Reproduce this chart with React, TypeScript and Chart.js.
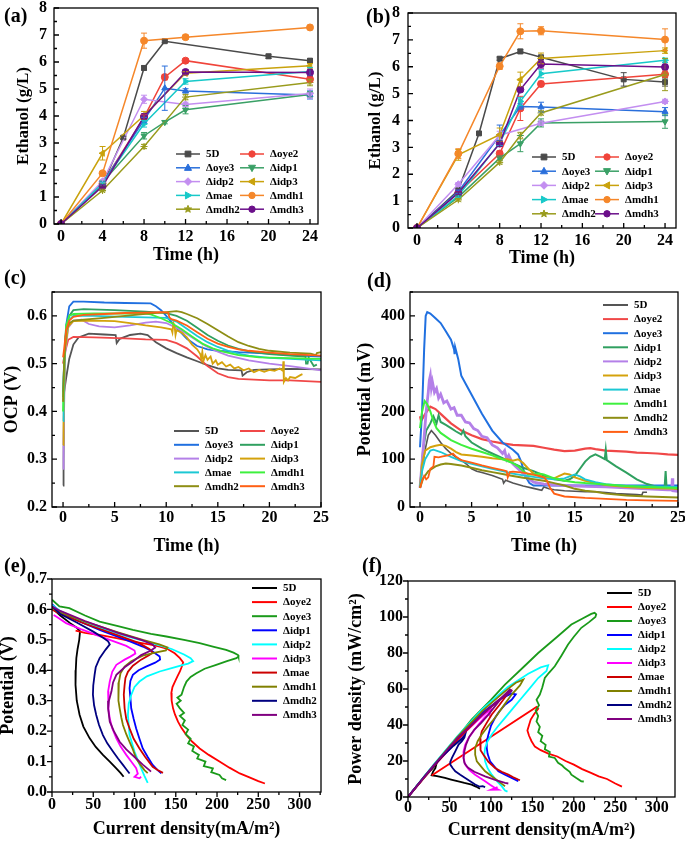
import React, { useEffect, useRef } from 'react';
import { Chart, registerables } from 'chart.js';

Chart.register(...registerables);

const FAMILY = "'Liberation Serif', 'Times New Roman', serif";
const NAMES = ['5D', 'Δoye2', 'Δoye3', 'Δidp1', 'Δidp2', 'Δidp3', 'Δmae', 'Δmdh1', 'Δmdh2', 'Δmdh3'];

// ---------- tick arrays ----------
const AB_XTICKS = [0, 4, 8, 12, 16, 20, 24];
const AB_YTICKS = [0, 1, 2, 3, 4, 5, 6, 7, 8];
const CD_XTICKS = [0, 5, 10, 15, 20, 25];
const C_YTICKS = [0.2, 0.3, 0.4, 0.5, 0.6];
const D_YTICKS = [0, 100, 200, 300, 400];
const EF_XTICKS = [0, 50, 100, 150, 200, 250, 300];
const E_YTICKS = [0, 0.1, 0.2, 0.3, 0.4, 0.5, 0.6, 0.7];
const F_YTICKS = [0, 20, 40, 60, 80, 100, 120];

// ---------- (a) ethanol [time, g/L, error] ----------
const A_5D = [[0, 0, 0], [4, 1.45, 0.05], [6, 3.2, 0.05], [8, 5.78, 0.08], [10, 6.77, 0.05], [20, 6.21, 0.08], [24, 6.05, 0.07]];
const A_OYE2 = [[0, 0, 0], [4, 1.5, 0.05], [8, 3.95, 0.1], [10, 5.44, 0.1], [12, 6.05, 0.06], [24, 5.36, 0.1]];
const A_OYE3 = [[0, 0, 0], [4, 1.52, 0.05], [8, 3.85, 0.1], [10, 5.03, 0.82], [12, 4.93, 0.08], [24, 4.78, 0.15]];
const A_IDP1 = [[0, 0, 0], [4, 1.55, 0.05], [8, 3.27, 0.12], [10, 3.77, 0.06], [12, 4.23, 0.15], [24, 4.8, 0.1]];
const A_IDP2 = [[0, 0, 0], [4, 1.58, 0.05], [8, 4.62, 0.15], [12, 4.43, 0.08], [24, 4.83, 0.17]];
const A_IDP3 = [[0, 0, 0], [4, 2.62, 0.25], [8, 4.02, 0.15], [12, 5.58, 0.06], [24, 5.86, 0.08]];
const A_MAE = [[0, 0, 0], [4, 1.5, 0.05], [8, 3.71, 0.12], [12, 5.28, 0.1], [24, 5.65, 0.15]];
const A_MDH1 = [[0, 0, 0], [4, 1.88, 0.06], [8, 6.79, 0.28], [12, 6.92, 0.08], [24, 7.28, 0.08]];
const A_MDH2 = [[0, 0, 0], [4, 1.24, 0.05], [8, 2.87, 0.08], [12, 4.7, 0.1], [24, 5.24, 0.12]];
const A_MDH3 = [[0, 0, 0], [4, 1.4, 0.05], [8, 3.98, 0.1], [12, 5.63, 0.08], [24, 5.61, 0.12]];

// ---------- (b) ethanol [time, g/L, error] ----------
const B_5D = [[0, 0, 0], [4, 1.4, 0.08], [6, 3.52, 0.05], [8, 6.3, 0.06], [10, 6.57, 0.08], [12, 6.35, 0.08], [20, 5.53, 0.25], [24, 5.43, 0.15]];
const B_OYE2 = [[0, 0, 0], [4, 1.3, 0.05], [8, 2.77, 0.1], [10, 4.45, 0.45], [12, 5.36, 0.1], [24, 5.72, 0.12]];
const B_OYE3 = [[0, 0, 0], [4, 1.35, 0.06], [8, 3.45, 0.38], [10, 4.52, 0.1], [12, 4.5, 0.18], [24, 4.33, 0.15]];
const B_IDP1 = [[0, 0, 0], [4, 1.15, 0.05], [8, 2.6, 0.08], [10, 3.14, 0.3], [12, 3.91, 0.15], [24, 3.96, 0.25]];
const B_IDP2 = [[0, 0, 0], [4, 1.63, 0.06], [8, 3.45, 0.15], [12, 3.9, 0.08], [24, 4.71, 0.08]];
const B_IDP3 = [[0, 0, 0], [4, 2.72, 0.2], [8, 3.47, 0.25], [10, 5.52, 0.28], [12, 6.31, 0.2], [24, 6.6, 0.1]];
const B_MAE = [[0, 0, 0], [4, 1.2, 0.05], [8, 3.16, 0.1], [10, 4.71, 0.15], [12, 5.74, 0.15], [24, 6.24, 0.08]];
const B_MDH1 = [[0, 0, 0], [4, 2.77, 0.18], [8, 6.02, 0.12], [10, 7.32, 0.28], [12, 7.34, 0.15], [24, 7.01, 0.4]];
const B_MDH2 = [[0, 0, 0], [4, 1.05, 0.05], [8, 2.44, 0.06], [10, 3.44, 0.12], [12, 4.28, 0.08], [24, 5.71, 0.6]];
const B_MDH3 = [[0, 0, 0], [4, 1.3, 0.05], [8, 3.14, 0.1], [10, 5.15, 0.08], [12, 6.1, 0.15], [24, 5.99, 0.1]];

// ---------- (c) OCP [time h, V] ----------
const C_5D = [[0, 0.245], [0.05, 0.3], [0.1, 0.44], [0.3, 0.47], [0.6, 0.51], [1, 0.54], [1.5, 0.555], [2.5, 0.563], [4, 0.561], [5.1, 0.56], [5.2, 0.543], [5.5, 0.552], [6.5, 0.56], [7.5, 0.563], [8.2, 0.56], [9, 0.545], [10, 0.532], [11, 0.522], [12, 0.513], [13, 0.505], [14, 0.497], [15, 0.49], [16, 0.487], [17.3, 0.486], [17.4, 0.475], [17.8, 0.482], [18.5, 0.487], [20, 0.488], [22, 0.489], [25, 0.488]];
const C_OYE2 = [[0, 0.5], [0.15, 0.52], [0.5, 0.55], [1, 0.556], [3, 0.555], [6, 0.553], [8, 0.551], [10, 0.55], [11, 0.543], [12, 0.532], [13, 0.515], [14, 0.495], [15, 0.48], [16, 0.472], [17, 0.468], [18, 0.467], [20, 0.465], [22, 0.465], [25, 0.462]];
const C_OYE3 = [[0, 0.44], [0.1, 0.5], [0.3, 0.58], [0.6, 0.62], [1, 0.63], [2, 0.63], [4, 0.628], [6, 0.627], [8.5, 0.626], [9, 0.62], [9.5, 0.612], [10, 0.6], [10.5, 0.587], [11, 0.575], [12, 0.552], [13, 0.537], [14, 0.53], [15, 0.527], [17, 0.524], [20, 0.521], [22, 0.518], [25, 0.515]];
const C_IDP1 = [[0, 0.43], [0.1, 0.5], [0.3, 0.57], [0.6, 0.6], [1, 0.612], [2, 0.614], [5, 0.612], [8, 0.609], [10, 0.606], [11, 0.6], [12, 0.59], [13, 0.575], [14, 0.56], [15, 0.548], [16, 0.538], [17, 0.531], [18, 0.526], [20, 0.52], [22, 0.517], [23.5, 0.515], [23.55, 0.5], [23.7, 0.5], [23.8, 0.513], [24.3, 0.495], [24.6, 0.498]];
const C_IDP2 = [[0, 0.28], [0.05, 0.34], [0.2, 0.52], [0.5, 0.575], [1, 0.59], [1.8, 0.592], [2.5, 0.583], [3.5, 0.578], [5, 0.576], [6.5, 0.58], [8, 0.586], [9, 0.588], [10, 0.585], [11, 0.575], [12, 0.562], [13, 0.548], [14, 0.535], [15, 0.525], [16, 0.517], [18, 0.507], [20, 0.5], [22, 0.495], [24, 0.489], [25, 0.486]];
const C_IDP3 = [[0, 0.33], [0.05, 0.38], [0.2, 0.53], [0.5, 0.578], [1, 0.589], [3, 0.59], [5, 0.589], [6.5, 0.585], [8, 0.58], [9.5, 0.576], [10.5, 0.572], [10.6, 0.565], [10.7, 0.585], [10.8, 0.58], [10.9, 0.56], [11, 0.57], [11.5, 0.565], [12, 0.555], [12.5, 0.54], [13, 0.53], [13.3, 0.52], [13.4, 0.51], [13.5, 0.525], [13.6, 0.505], [13.8, 0.518], [14, 0.508], [14.3, 0.515], [14.5, 0.5], [14.8, 0.507], [15, 0.498], [15.4, 0.503], [15.8, 0.494], [16.2, 0.498], [16.6, 0.49], [17, 0.493], [17.5, 0.486], [18, 0.49], [18.5, 0.482], [19, 0.487], [19.5, 0.483], [20, 0.487], [20.5, 0.485], [21, 0.49], [21.3, 0.485], [21.35, 0.505], [21.4, 0.462], [21.6, 0.47], [21.8, 0.465], [22, 0.472], [22.5, 0.47], [23, 0.476], [23.2, 0.478]];
const C_MAE = [[0, 0.38], [0.05, 0.42], [0.2, 0.55], [0.5, 0.59], [1, 0.6], [3, 0.6], [6, 0.598], [8, 0.597], [10, 0.596], [11, 0.588], [12, 0.573], [13, 0.558], [14, 0.545], [15, 0.535], [16, 0.527], [17, 0.521], [18, 0.517], [20, 0.512], [22, 0.51], [25, 0.507]];
const C_MDH1 = [[0, 0.4], [0.1, 0.5], [0.3, 0.58], [0.6, 0.6], [1, 0.604], [3, 0.605], [6, 0.605], [8, 0.605], [8.5, 0.603], [9.5, 0.595], [10.5, 0.585], [11.5, 0.572], [12.5, 0.557], [13.5, 0.542], [14.5, 0.532], [15.5, 0.525], [17, 0.518], [19, 0.513], [21, 0.512], [25, 0.51]];
const C_MDH2 = [[0, 0.42], [0.1, 0.5], [0.3, 0.57], [0.6, 0.585], [1, 0.59], [2, 0.592], [4, 0.596], [6, 0.6], [8, 0.604], [10, 0.608], [11, 0.61], [11.5, 0.608], [12, 0.604], [13, 0.595], [14, 0.583], [15, 0.57], [16, 0.557], [17, 0.545], [18, 0.537], [19, 0.531], [20, 0.527], [22, 0.523], [24, 0.521], [24.5, 0.518], [24.6, 0.522], [25, 0.524]];
const C_MDH3 = [[0, 0.513], [0.1, 0.53], [0.3, 0.57], [0.6, 0.59], [1, 0.598], [2, 0.602], [4, 0.604], [6, 0.606], [8, 0.607], [9.5, 0.608], [10.2, 0.607], [10.3, 0.597], [10.5, 0.593], [11, 0.59], [12, 0.58], [13, 0.566], [14, 0.552], [15, 0.542], [16, 0.535], [17, 0.53], [18, 0.527], [20, 0.523], [22, 0.52], [25, 0.517]];

// ---------- (d) potential [time h, mV] ----------
const D_5D = [[0, 40], [0.2, 80], [0.5, 120], [0.8, 150], [1.1, 160], [1.5, 150], [2, 135], [2.5, 122], [3, 112], [3.5, 104], [4, 98], [4.5, 90], [5, 80], [5.5, 75], [6, 72], [7, 66], [8, 58], [8.1, 50], [8.3, 56], [9, 50], [10, 44], [11, 39], [11.8, 35], [12, 42], [12.5, 38], [13, 36], [14, 34], [15, 33], [16, 32], [17, 32], [18, 30], [19, 28], [20, 27], [21, 26], [21.5, 25], [21.6, 31], [22, 31]];
const D_OYE2 = [[0, 190], [0.1, 180], [0.5, 195], [1, 210], [1.5, 205], [2, 195], [2.5, 185], [3, 175], [4, 160], [5, 150], [6, 142], [7, 137], [8, 133], [9, 130], [10, 129], [11, 128], [12, 124], [13, 120], [14, 117], [15, 118], [16, 122], [16.5, 123], [17, 121], [18, 118], [19, 117], [20, 116], [21, 114], [22, 113], [23, 112], [24, 110], [25, 109]];
const D_OYE3 = [[0, 125], [0.2, 200], [0.4, 330], [0.55, 400], [0.7, 408], [1, 405], [1.5, 395], [2, 385], [2.5, 368], [3, 350], [3.3, 330], [3.35, 320], [3.4, 335], [3.7, 310], [4, 275], [4.5, 255], [5, 235], [6, 195], [7, 160], [8, 135], [9, 120], [9.5, 110], [9.8, 95], [10.2, 65], [10.6, 50], [11, 45], [13, 45], [16, 45], [20, 45], [25, 45]];
const D_IDP1 = [[0, 40], [0.3, 120], [0.6, 160], [1, 175], [1.3, 190], [1.6, 175], [1.8, 192], [2, 178], [2.5, 172], [3, 165], [3.5, 158], [4, 152], [4.2, 160], [4.4, 148], [5, 135], [6, 122], [7, 112], [8, 102], [9, 92], [10, 82], [11, 75], [12, 66], [13, 58], [14, 55], [14.5, 58], [15, 65], [15.5, 80], [16, 95], [16.5, 105], [17, 110], [17.5, 105], [17.9, 100], [18, 120], [18.1, 98], [19, 85], [20, 72], [21, 58], [22, 48], [23, 42], [23.7, 40], [23.8, 75], [23.9, 38], [25, 37]];
const D_IDP2 = [[0, 40], [0.3, 120], [0.6, 200], [0.8, 240], [0.9, 265], [1, 275], [1.1, 250], [1.2, 262], [1.4, 240], [1.6, 248], [1.8, 228], [2, 236], [2.3, 218], [2.6, 222], [3, 205], [3.3, 208], [3.6, 192], [4, 192], [4.4, 178], [4.8, 176], [5.2, 164], [5.6, 160], [6, 148], [6.5, 145], [7, 130], [7.5, 124], [8, 112], [8.2, 118], [8.4, 100], [8.6, 108], [9, 90], [9.5, 80], [10, 70], [10.5, 60], [11, 52], [12, 48], [14, 45], [16, 43], [18, 42], [20, 40], [22, 38], [24, 36], [24.4, 36], [24.45, 60], [24.5, 34], [25, 33]];
const D_IDP3 = [[0, 40], [0.2, 90], [0.5, 118], [1, 125], [1.5, 128], [2, 130], [2.5, 128], [3, 122], [3.5, 115], [4, 110], [5, 108], [6, 105], [7, 102], [8, 100], [8.5, 100], [9, 97], [9.5, 100], [10, 92], [10.5, 80], [11, 70], [12, 62], [13, 60], [13.5, 65], [14, 70], [14.5, 68], [15, 62], [16, 55], [17, 50], [18, 46], [20, 42], [22, 40], [25, 38]];
const D_MAE = [[0, 40], [0.2, 75], [0.5, 100], [1, 118], [1.3, 120], [2, 115], [3, 105], [4, 96], [5, 90], [6, 85], [7, 80], [8, 75], [9, 70], [10, 66], [11, 63], [12, 60], [13, 58], [14, 60], [14.5, 64], [15, 68], [15.5, 64], [16, 58], [17, 52], [18, 48], [20, 44], [22, 43], [25, 42]];
const D_MDH1 = [[0, 165], [0.2, 200], [0.45, 222], [0.7, 215], [1, 200], [1.3, 180], [1.6, 165], [2, 155], [3, 140], [4, 130], [5, 122], [6, 115], [7, 108], [8, 100], [9, 92], [9.5, 85], [10, 75], [10.5, 68], [11, 68], [11.5, 70], [12, 68], [13, 60], [14, 55], [15, 52], [16, 50], [18, 47], [20, 44], [22, 42], [25, 40]];
const D_MDH2 = [[0, 40], [0.3, 60], [0.8, 75], [1.5, 85], [2, 89], [2.5, 91], [3, 90], [4, 87], [5, 82], [6, 77], [7, 73], [8, 69], [9, 65], [10, 61], [11, 58], [12, 55], [13, 50], [14, 45], [15, 38], [16, 34], [17, 32], [18, 28], [20, 24], [22, 22], [25, 20]];
const D_MDH3 = [[0, 40], [0.2, 55], [0.4, 65], [0.6, 58], [0.8, 62], [1, 80], [1.3, 85], [1.4, 105], [1.8, 104], [2.2, 106], [2.7, 108], [3, 110], [3.2, 112], [3.5, 105], [4, 98], [5, 93], [6, 87], [7, 82], [8, 77], [8.4, 75], [8.5, 62], [8.7, 73], [9, 74], [10, 72], [11, 68], [12, 62], [12.3, 55], [12.6, 40], [13, 28], [14, 22], [16, 19], [18, 17], [20, 15], [22, 14], [25, 13]];

// ---------- (e) polarization [mA/m2, V] ----------
const E_5D = [[2, 0.6], [10, 0.58], [22, 0.555], [30, 0.54], [34, 0.528], [33, 0.5], [31, 0.47], [29.5, 0.44], [28.8, 0.4], [28.5, 0.352], [30, 0.3], [33.4, 0.254], [38, 0.215], [45.5, 0.177], [53, 0.148], [61.7, 0.122], [70, 0.1], [77.9, 0.078], [83, 0.063], [86.8, 0.05]];
const E_OYE2 = [[28.6, 0.53], [40, 0.523], [57.7, 0.516], [78, 0.506], [98, 0.494], [118, 0.485], [130.5, 0.478], [140, 0.47], [148.7, 0.456], [155, 0.44], [159, 0.426], [157, 0.41], [155, 0.396], [152, 0.38], [149, 0.363], [146, 0.345], [144.6, 0.325], [145, 0.3], [146.7, 0.275], [149, 0.255], [152.7, 0.231], [157, 0.21], [163, 0.187], [170, 0.165], [179, 0.143], [190, 0.122], [203, 0.1], [215, 0.08], [227.6, 0.061], [240, 0.047], [250, 0.036], [258, 0.028]];
const E_OYE3 = [[0, 0.632], [9, 0.61], [21, 0.604], [40, 0.58], [57.7, 0.56], [80, 0.545], [98, 0.533], [120, 0.52], [138.6, 0.511], [160, 0.5], [179, 0.489], [195, 0.478], [211, 0.467], [220, 0.458], [225.5, 0.45], [226, 0.445], [223.5, 0.44], [212, 0.43], [199, 0.418], [185, 0.405], [175, 0.39], [168, 0.378], [163, 0.363], [160, 0.345], [157, 0.32], [152, 0.31], [156, 0.3], [151, 0.29], [155, 0.275], [160, 0.26], [155, 0.25], [161, 0.235], [158, 0.22], [165, 0.205], [162, 0.19], [168, 0.175], [165, 0.16], [172, 0.15], [170, 0.135], [178, 0.122], [176, 0.11], [186, 0.1], [184, 0.085], [195, 0.078], [193, 0.065], [203, 0.056], [206, 0.045], [211, 0.039]];
const E_IDP1 = [[0, 0.617], [10, 0.59], [30, 0.565], [60, 0.53], [90, 0.5], [110, 0.478], [122, 0.462], [130.5, 0.445], [131, 0.435], [125, 0.425], [114, 0.412], [105, 0.4], [98, 0.385], [95, 0.365], [94, 0.341], [95, 0.31], [96, 0.275], [99, 0.24], [102, 0.209], [106, 0.175], [110, 0.143], [116, 0.115], [122, 0.089], [128, 0.072], [132.5, 0.061]];
const E_IDP2 = [[0, 0.615], [10, 0.595], [30, 0.57], [60, 0.538], [90, 0.512], [120, 0.49], [145, 0.47], [160, 0.452], [168, 0.44], [171, 0.43], [165, 0.422], [159, 0.418], [145, 0.407], [130.5, 0.396], [115, 0.38], [106, 0.363], [100, 0.345], [96, 0.319], [93, 0.29], [92, 0.253], [93, 0.22], [94, 0.187], [97, 0.16], [100, 0.133], [104, 0.105], [108, 0.078], [112, 0.053], [116, 0.03]];
const E_IDP3 = [[2, 0.582], [6, 0.575], [17, 0.555], [35, 0.535], [55, 0.515], [75, 0.495], [90, 0.48], [100, 0.465], [101, 0.455], [95, 0.445], [88, 0.435], [78, 0.418], [73, 0.395], [70, 0.363], [68, 0.33], [68, 0.297], [69, 0.27], [70, 0.242], [73, 0.21], [78, 0.176], [83, 0.15], [90, 0.122], [96, 0.1], [102, 0.078], [104, 0.06], [100, 0.05], [106, 0.045], [108, 0.05]];
const E_MAE = [[0, 0.6], [10, 0.585], [40, 0.553], [80, 0.515], [105, 0.49], [118, 0.47], [122, 0.458], [118, 0.45], [108, 0.435], [98, 0.415], [92, 0.395], [89, 0.375], [88, 0.352], [87, 0.32], [88, 0.275], [90, 0.24], [94, 0.209], [99, 0.175], [106, 0.143], [113, 0.115], [122, 0.083], [128, 0.072], [134.5, 0.063]];
const E_MDH1 = [[0, 0.605], [10, 0.59], [40, 0.56], [80, 0.525], [110, 0.5], [130, 0.485], [140, 0.475], [138, 0.465], [125, 0.458], [110, 0.448], [96, 0.43], [88, 0.412], [83, 0.39], [81, 0.36], [80, 0.33], [81, 0.3], [82, 0.275], [84, 0.245], [86, 0.22], [90, 0.19], [94, 0.165], [98, 0.14], [102, 0.11], [107, 0.09], [112, 0.072], [116, 0.062]];
const E_MDH2 = [[0, 0.61], [10, 0.585], [30, 0.557], [50, 0.527], [62, 0.507], [68, 0.495], [70, 0.485], [65, 0.468], [57.7, 0.44], [53, 0.41], [51.6, 0.385], [50, 0.35], [49.6, 0.32], [51, 0.285], [53.6, 0.253], [57, 0.22], [61.7, 0.187], [67, 0.16], [73.9, 0.133], [80, 0.11], [86, 0.089], [90, 0.075], [94, 0.061]];
const E_MDH3 = [[0, 0.61], [10, 0.595], [40, 0.562], [80, 0.523], [110, 0.498], [122, 0.485], [125, 0.475], [120, 0.465], [108, 0.45], [98, 0.429], [88, 0.41], [78, 0.385], [74, 0.36], [72, 0.33], [69, 0.3], [68, 0.275], [70, 0.231], [75, 0.2], [82, 0.165], [90, 0.14], [102, 0.11], [110, 0.09], [118, 0.072], [120, 0.067]];

// ---------- (f) power [mA/m2, mW/cm2] ----------
const F_5D = [[0, 0], [10, 5.8], [20, 11.2], [30, 16.2], [34.6, 18.9], [33, 16], [30.5, 14.3], [28.5, 12.1], [35, 11.6], [44.6, 10.6], [52, 9.7], [60.7, 8.7], [68, 7.8], [76.7, 6.9], [82, 5.8], [86.8, 4.6]];
const F_OYE2 = [[28.5, 11.9], [155, 50], [157, 49], [152, 46], [148, 43], [146, 40], [144, 37], [146, 34], [149, 31], [153, 28], [160, 26], [170, 24], [180, 22.5], [190, 20], [200, 18], [210, 15.5], [220, 13.5], [230, 11.5], [240, 10], [250, 7.5], [258, 5.8]];
const F_OYE3 = [[0, 0], [20, 11.6], [36.6, 20.8], [60, 33.5], [76.7, 43], [100, 54], [116.9, 62.4], [140, 72.5], [157, 80], [180, 89], [197, 95.8], [210, 99], [221, 101.7], [225, 102.3], [227, 101.5], [226, 100], [218, 97], [209, 94], [200, 89], [193, 84.7], [185, 78.5], [177, 72.6], [170, 69], [165, 66.1], [162, 61], [159, 56.9], [155, 54], [158, 51], [154, 48], [157, 45], [155, 42], [159, 39], [157, 36], [162, 34], [160, 31], [166, 29], [165, 26.5], [171, 25], [170, 22.5], [177, 21.7], [181, 19], [186, 17.5], [189, 16.1], [195, 14], [197, 12.4], [203, 10.5], [209, 8.7], [212, 8.6]];
const F_IDP1 = [[0, 0], [30, 17], [60, 33], [90, 47], [110, 54], [125, 57.5], [130, 57], [125, 54], [117, 51.3], [110, 47.5], [105, 44], [100, 39.5], [97, 34.7], [95, 31], [95, 27.2], [96, 24], [99, 19.8], [104, 17], [109, 14.3], [117, 12.4], [125, 10.6], [130, 9.5], [133, 8.7]];
const F_IDP2 = [[0, 0], [30, 17.5], [60, 34], [90, 49], [120, 61], [145, 68.5], [160, 72], [169, 73.2], [167, 70], [157, 66.1], [147, 60.5], [137, 55], [127, 49.5], [117, 44], [108, 39], [101, 34.7], [96, 31], [93, 27.2], [92, 23.5], [93, 19.8], [96, 16], [101, 12.4], [107, 9], [113, 6], [117, 3.6], [120, 3]];
const F_IDP3 = [[0, 0], [30, 16.7], [50, 26.5], [70, 36.5], [85, 43], [95, 47], [100, 48.5], [99, 47], [92, 44], [85, 40.2], [79, 36.5], [73, 32.8], [69, 29], [67, 25.4], [67, 21.7], [69, 18], [74, 15], [81, 12.4], [87, 10.5], [93, 8.7], [99, 6.8], [105, 5], [109, 4.1], [100, 4], [108, 5.5]];
const F_MAE = [[0, 0], [30, 16.5], [60, 32], [90, 46], [110, 54], [121, 57.8], [118, 56], [110, 51], [101, 45.8], [94, 40.5], [89, 36.5], [87, 32.5], [87, 29.1], [88, 26], [91, 23.5], [97, 19.5], [105, 16.1], [113, 14], [121, 12.4], [127, 11], [133, 9.7], [135, 9.3]];
const F_MDH1 = [[0, 0], [30, 17], [60, 33.5], [90, 48], [115, 58], [130, 63.5], [139, 65.2], [135, 62], [125, 56.9], [115, 50.5], [105, 44], [96, 39], [89, 34.7], [84, 31], [81, 27.2], [81, 23.5], [83, 19.8], [88, 17], [93, 14.3], [101, 11.5], [109, 8.7], [114, 7], [117, 6]];
const F_MDH2 = [[0, 0], [20, 11.5], [40, 22], [55, 28.5], [65, 32.5], [69, 34.7], [68, 33], [65, 31], [61, 29.1], [57, 25.4], [53, 21.7], [51, 19.5], [51, 18], [54, 16], [57, 14.3], [63, 12.4], [69, 10.6], [75, 8.8], [81, 6.9], [86, 5.8], [90, 6], [93, 5.5]];
const F_MDH3 = [[0, 0], [30, 17], [60, 33], [90, 46], [110, 54], [123, 59.7], [125, 59], [120, 57], [113, 55], [105, 50.5], [97, 45.8], [88, 41], [80, 37.5], [74, 33.5], [70, 29.1], [68, 25.4], [67, 21.7], [68, 19], [71, 17], [73, 16.1], [80, 14], [93, 11.5], [105, 9.5], [117, 7.8], [121, 7.5]];

// ---------- styles ----------
const COL_AB = ['#4a4a4a', '#f0443a', '#2a6fdb', '#3aa066', '#c38ef0', '#c9a20c', '#17c9c9', '#f5872a', '#999b1c', '#6b0f8a'];
const COL_CD = ['#555555', '#f04848', '#2070e0', '#30a060', '#b480e8', '#d4a20c', '#1cc8d4', '#3ef03e', '#8e8e14', '#ff5f14'];
const COL_EF = ['#000000', '#ff0000', '#1a9a1a', '#0000ff', '#00ffff', '#ff00ff', '#cc0000', '#808000', '#000080', '#800080'];
const MARKERS = [['rect', 0], ['circle', 0], ['triangle', 0], ['triangle', 180], ['rectRot', 0], ['triangle', 270], ['triangle', 90], ['circle', 0], ['star', 0], ['circle', 0]];

function drawMarker(ctx, style, rot, x, y, r, color) {
  ctx.save();
  ctx.translate(x, y);
  ctx.rotate((rot * Math.PI) / 180);
  ctx.fillStyle = color;
  ctx.strokeStyle = color;
  ctx.lineWidth = 1;
  ctx.beginPath();
  if (style === 'circle') ctx.arc(0, 0, r, 0, Math.PI * 2);
  else if (style === 'rect') ctx.rect(-r * 0.9, -r * 0.9, r * 1.8, r * 1.8);
  else if (style === 'rectRot') {
    ctx.moveTo(0, -r * 1.2); ctx.lineTo(r * 1.2, 0); ctx.lineTo(0, r * 1.2); ctx.lineTo(-r * 1.2, 0); ctx.closePath();
  } else if (style === 'triangle') {
    ctx.moveTo(0, -r * 1.2); ctx.lineTo(r * 1.1, r * 0.8); ctx.lineTo(-r * 1.1, r * 0.8); ctx.closePath();
  } else {
    for (let k = 0; k < 10; k++) {
      const rr = k % 2 === 0 ? r * 1.2 : r * 0.5;
      const a = -Math.PI / 2 + (k * Math.PI) / 5;
      if (k === 0) ctx.moveTo(rr * Math.cos(a), rr * Math.sin(a));
      else ctx.lineTo(rr * Math.cos(a), rr * Math.sin(a));
    }
    ctx.closePath();
  }
  ctx.fill();
  ctx.stroke();
  ctx.restore();
}

// ---------- plugins ----------
const axisDeco = {
  id: 'axisDeco',
  afterDraw(chart, _a, o) {
    if (!o || !o.on) return;
    const { ctx, chartArea: a, scales } = chart;
    const xs = scales.x;
    const ys = scales.y;
    ctx.save();
    ctx.strokeStyle = '#000';
    ctx.lineWidth = 1.3;
    ctx.strokeRect(a.left, a.top, a.right - a.left, a.bottom - a.top);
    const d = o.inward ? -1 : 1;
    const minors = (vals, min, max) => {
      const res = [];
      for (let i = 0; i < vals.length - 1; i++) res.push((vals[i] + vals[i + 1]) / 2);
      const st = vals[1] - vals[0];
      if (vals[0] - st / 2 >= min) res.push(vals[0] - st / 2);
      if (vals[vals.length - 1] + st / 2 <= max + 1e-9) res.push(vals[vals.length - 1] + st / 2);
      return res;
    };
    const xv = xs.ticks.map((t) => t.value);
    const yv = ys.ticks.map((t) => t.value);
    ctx.beginPath();
    xv.forEach((v) => { const p = xs.getPixelForValue(v); ctx.moveTo(p, a.bottom); ctx.lineTo(p, a.bottom + d * 5); });
    minors(xv, xs.min, xs.max).forEach((v) => { const p = xs.getPixelForValue(v); ctx.moveTo(p, a.bottom); ctx.lineTo(p, a.bottom + d * 3); });
    yv.forEach((v) => { const p = ys.getPixelForValue(v); ctx.moveTo(a.left, p); ctx.lineTo(a.left - d * 5, p); });
    minors(yv, ys.min, ys.max).forEach((v) => { const p = ys.getPixelForValue(v); ctx.moveTo(a.left, p); ctx.lineTo(a.left - d * 3, p); });
    ctx.stroke();
    ctx.restore();
  },
};

const errorBars = {
  id: 'errorBars',
  afterDatasetsDraw(chart) {
    const { ctx } = chart;
    const ys = chart.scales.y;
    chart.data.datasets.forEach((ds, i) => {
      if (!ds.errors) return;
      const meta = chart.getDatasetMeta(i);
      ctx.save();
      ctx.strokeStyle = ds.borderColor;
      ctx.lineWidth = 1;
      ds.errors.forEach((e, j) => {
        if (!e) return;
        const pt = meta.data[j];
        const v = ds.data[j].y;
        const y1 = ys.getPixelForValue(v + e);
        const y2 = ys.getPixelForValue(v - e);
        ctx.beginPath();
        ctx.moveTo(pt.x, y1); ctx.lineTo(pt.x, y2);
        ctx.moveTo(pt.x - 3, y1); ctx.lineTo(pt.x + 3, y1);
        ctx.moveTo(pt.x - 3, y2); ctx.lineTo(pt.x + 3, y2);
        ctx.stroke();
      });
      ctx.restore();
    });
  },
};

const boxLegend = {
  id: 'boxLegend',
  afterDraw(chart, _a, o) {
    if (!o || !o.on) return;
    const { ctx } = chart;
    ctx.save();
    ctx.font = `bold 11px ${FAMILY}`;
    ctx.textBaseline = 'middle';
    ctx.textAlign = 'left';
    chart.data.datasets.forEach((ds, i) => {
      const col = i % o.cols;
      const row = Math.floor(i / o.cols);
      const x = o.xs[col];
      const y = o.y0 + row * o.rowH;
      ctx.strokeStyle = ds.borderColor;
      ctx.lineWidth = o.lw;
      ctx.beginPath();
      ctx.moveTo(x, y);
      ctx.lineTo(x + o.len, y);
      ctx.stroke();
      if (o.markers) drawMarker(ctx, MARKERS[i][0], MARKERS[i][1], x + o.len / 2, y, 3.2, ds.borderColor);
      ctx.fillStyle = '#000';
      ctx.fillText(ds.label, x + o.len + 6, y + 0.5);
    });
    ctx.restore();
  },
};

Chart.register(axisDeco, errorBars, boxLegend);

function scale(o) {
  return {
    type: 'linear',
    min: o.min,
    max: o.max,
    afterBuildTicks: (s) => { s.ticks = o.ticks.map((v) => ({ value: v })); },
    afterFit: (s) => {
      if (o.isX) { s.height = o.size; s.paddingLeft = 0; s.paddingRight = 0; }
      else { s.width = o.size; s.paddingTop = 0; s.paddingBottom = 0; }
    },
    grid: { display: false, drawTicks: false },
    border: { display: false },
    ticks: {
      autoSkip: false, maxRotation: 0, minRotation: 0, padding: o.tickPad, color: '#000',
      font: { family: FAMILY, size: 16, weight: 'bold' },
      callback: o.fmt,
    },
    title: {
      display: true, text: o.title, color: '#000',
      font: { family: FAMILY, size: o.titleSize, weight: 'bold', lineHeight: o.titleLH || 1.2 },
      padding: o.isX ? { top: 0, bottom: o.titlePad } : { top: o.titlePad, bottom: 0 },
    },
  };
}

const fmtInt = (v) => String(v);
const fmt1 = (v) => Number(v).toFixed(1);

function makeConfig(p) {
  return {
    type: 'scatter',
    data: {
      datasets: p.series.map((s, i) => ({
        label: NAMES[i],
        data: s.map((q) => ({ x: q[0], y: q[1] })),
        errors: p.markers ? s.map((q) => q[2] || 0) : null,
        showLine: true,
        borderColor: p.colors[i],
        backgroundColor: p.colors[i],
        borderWidth: p.lws ? p.lws[i] : p.lw,
        pointRadius: p.markers ? 3.5 : 0,
        pointHoverRadius: p.markers ? 3.5 : 0,
        pointStyle: MARKERS[i][0],
        pointRotation: MARKERS[i][1],
        pointBorderWidth: 1,
        tension: 0,
        order: p.series.length - i,
      })),
    },
    options: {
      animation: false,
      responsive: false,
      devicePixelRatio: 1,
      events: [],
      layout: { padding: p.padding },
      plugins: {
        legend: { display: false },
        tooltip: { enabled: false },
        axisDeco: { on: true, inward: p.inward },
        boxLegend: { on: true, ...p.legend },
      },
      scales: { x: scale({ ...p.x, isX: true }), y: scale(p.y) },
    },
  };
}

const PANELS = [
  {
    key: 'a', left: 0, top: 0, w: 340, h: 270,
    series: [A_5D, A_OYE2, A_OYE3, A_IDP1, A_IDP2, A_IDP3, A_MAE, A_MDH1, A_MDH2, A_MDH3],
    colors: COL_AB, lw: 1.5, markers: true, inward: true,
    padding: { left: 0, top: 8, right: 22, bottom: 0 },
    x: { min: -0.68, max: 24.77, ticks: AB_XTICKS, fmt: fmtInt, size: 46, tickPad: 3, title: 'Time (h)', titleSize: 18, titlePad: 4 },
    y: { min: 0, max: 8, ticks: AB_YTICKS, fmt: fmtInt, size: 54, tickPad: 7, title: 'Ethanol (g/L)', titleSize: 17, titlePad: 13.8 },
    legend: { cols: 2, xs: [176, 240], y0: 154, rowH: 13.8, len: 24, lw: 1.5, markers: true },
  },
  {
    key: 'b', left: 340, top: 0, w: 345, h: 270,
    series: [B_5D, B_OYE2, B_OYE3, B_IDP1, B_IDP2, B_IDP3, B_MAE, B_MDH1, B_MDH2, B_MDH3],
    colors: COL_AB, lw: 1.5, markers: true, inward: true,
    padding: { left: 0, top: 13, right: 9, bottom: 0 },
    x: { min: -0.87, max: 25.06, ticks: AB_XTICKS, fmt: fmtInt, size: 42, tickPad: 3, title: 'Time (h)', titleSize: 18, titlePad: 1.2 },
    y: { min: 0, max: 8, ticks: AB_YTICKS, fmt: fmtInt, size: 68, tickPad: 8, title: 'Ethanol (g/L)', titleSize: 17, titlePad: 25.8 },
    legend: { cols: 2, xs: [192, 255], y0: 157, rowH: 14.2, len: 24, lw: 1.5, markers: true },
  },
  {
    key: 'c', left: 0, top: 270, w: 340, h: 292,
    series: [C_5D, C_OYE2, C_OYE3, C_IDP1, C_IDP2, C_IDP3, C_MAE, C_MDH1, C_MDH2, C_MDH3],
    colors: COL_CD, lw: 1.8, markers: false, inward: true,
    padding: { left: 0, top: 22, right: 19, bottom: 0 },
    x: { min: -1.07, max: 25, ticks: CD_XTICKS, fmt: fmtInt, size: 55, tickPad: 1.5, title: 'Time (h)', titleSize: 18, titlePad: 5.2 },
    y: { min: 0.2, max: 0.65, ticks: C_YTICKS, fmt: fmt1, size: 52, tickPad: 5, title: 'OCP (V)', titleSize: 18, titlePad: 1.2 },
    legend: { cols: 2, xs: [174, 240], y0: 161, rowH: 13.8, len: 25, lw: 2, markers: false },
  },
  {
    key: 'd', left: 340, top: 270, w: 345, h: 292,
    series: [D_5D, D_OYE2, D_OYE3, D_IDP1, D_IDP2, D_IDP3, D_MAE, D_MDH1, D_MDH2, D_MDH3],
    colors: COL_CD, lws: [1.6, 2.2, 2, 2, 2.8, 2, 1.8, 2, 2, 1.8], markers: false, inward: true,
    padding: { left: 0, top: 22, right: 7, bottom: 0 },
    x: { min: -0.97, max: 25, ticks: CD_XTICKS, fmt: fmtInt, size: 55, tickPad: 1.5, title: 'Time (h)', titleSize: 18, titlePad: 5.2 },
    y: { min: 0, max: 450, ticks: D_YTICKS, fmt: fmtInt, size: 70, tickPad: 5, title: 'Potential (mV)', titleSize: 18, titlePad: 14.2 },
    legend: { cols: 1, xs: [263], y0: 35, rowH: 14.1, len: 25, lw: 2, markers: false },
  },
  {
    key: 'e', left: 0, top: 555, w: 340, h: 288,
    series: [E_5D, E_OYE2, E_OYE3, E_IDP1, E_IDP2, E_IDP3, E_MAE, E_MDH1, E_MDH2, E_MDH3],
    colors: COL_EF, lw: 1.8, markers: false, inward: false,
    padding: { left: 0, top: 24, right: 19, bottom: 0 },
    x: { min: 0, max: 326, ticks: EF_XTICKS, fmt: fmtInt, size: 51, tickPad: 3.4, title: 'Current density(mA/m²)', titleSize: 18, titlePad: 3.2 },
    y: { min: 0, max: 0.7, ticks: E_YTICKS, fmt: fmt1, size: 52, tickPad: 5, title: 'Potential (V)', titleSize: 18, titleLH: 0.8, titlePad: 0.8 },
    legend: { cols: 1, xs: [252], y0: 33, rowH: 14.1, len: 25, lw: 2, markers: false },
  },
  {
    key: 'f', left: 340, top: 555, w: 345, h: 288,
    series: [F_5D, F_OYE2, F_OYE3, F_IDP1, F_IDP2, F_IDP3, F_MAE, F_MDH1, F_MDH2, F_MDH3],
    colors: COL_EF, lw: 1.8, markers: false, inward: false,
    padding: { left: 0, top: 26, right: 10, bottom: 0 },
    x: { min: 0, max: 322, ticks: EF_XTICKS, fmt: fmtInt, size: 46, tickPad: 1.5, title: 'Current density(mA/m²)', titleSize: 18, titlePad: 2.2 },
    y: { min: 0, max: 120, ticks: F_YTICKS, fmt: fmtInt, size: 68, tickPad: 5, title: 'Power density (mW/cm²)', titleSize: 18, titlePad: 5.2 },
    legend: { cols: 1, xs: [267], y0: 38, rowH: 14, len: 25, lw: 2, markers: false },
  },
];

const LABELS = [
  { t: '(a)', x: 4, y: 15 },
  { t: '(b)', x: 366, y: 16 },
  { t: '(c)', x: 4, y: 277 },
  { t: '(d)', x: 367, y: 280 },
  { t: '(e)', x: 4, y: 565 },
  { t: '(f)', x: 362, y: 565 },
];

function Panel({ p }) {
  const ref = useRef(null);
  useEffect(() => {
    const chart = new Chart(ref.current, makeConfig(p));
    return () => chart.destroy();
  }, []);
  return (
    <canvas
      ref={ref}
      width={p.w}
      height={p.h}
      style={{ position: 'absolute', left: p.left, top: p.top, width: p.w, height: p.h }}
    />
  );
}

export default function App() {
  return (
    <div style={{ position: 'absolute', left: 0, top: 0, width: 685, height: 843, background: '#fff', overflow: 'hidden' }}>
      {PANELS.map((p) => <Panel key={p.key} p={p} />)}
      {LABELS.map((l) => (
        <div
          key={l.t}
          style={{
            position: 'absolute', left: l.x, top: l.y - 11, height: 22, lineHeight: '22px',
            font: `bold 20px ${FAMILY}`, color: '#000', whiteSpace: 'nowrap',
          }}
        >
          {l.t}
        </div>
      ))}
    </div>
  );
}
